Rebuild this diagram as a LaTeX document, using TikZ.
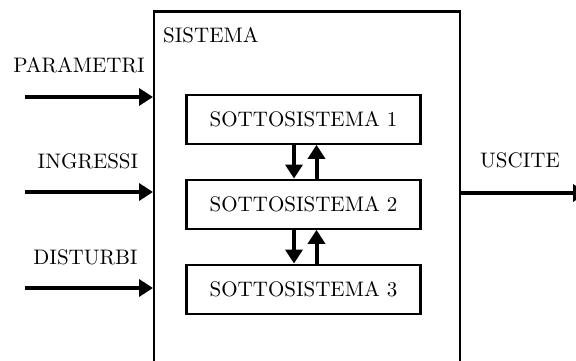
\documentclass[tikz,border=0pt]{standalone}
\usetikzlibrary{arrows.meta}
\newcommand{\bigtxt}[1]{\scalebox{2.1}{\fontsize{10}{12}\selectfont #1}}
\begin{document}
\begin{tikzpicture}[x=1pt,y=-1pt,
  lbl/.style={inner sep=0pt, anchor=base},
  subbox/.style={draw, line width=2.3pt, minimum width=234pt, minimum height=49pt, inner sep=0pt},
  sysbox/.style={draw, line width=2.3pt, inner sep=0pt},
  flow/.style={line width=4pt, -{Triangle[length=14pt,width=17pt]}}]
\clip (0,0) rectangle (576,361);
\node[sysbox, minimum width=306pt, minimum height=420pt, anchor=north west] (sys) at (153,10.5) {};
\node[lbl, anchor=base west] (sistema) at (163,43) {\bigtxt{SISTEMA}};
\node[subbox] (s1) at (303.5,119.2) {\bigtxt{SOTTOSISTEMA 1}};
\node[subbox] (s2) at (303.5,204.2) {\bigtxt{SOTTOSISTEMA 2}};
\node[subbox] (s3) at (303.5,289.2) {\bigtxt{SOTTOSISTEMA 3}};
\node[lbl] (par) at (79,73) {\bigtxt{PARAMETRI}};
\node[lbl] (ing) at (88,168) {\bigtxt{INGRESSI}};
\node[lbl] (dis) at (85.5,264) {\bigtxt{DISTURBI}};
\node[lbl] (usc) at (520,167) {\bigtxt{USCITE}};
\coordinate (pin) at (25,97);
\coordinate (iin) at (25,192);
\coordinate (din) at (25,288);
\coordinate (uout) at (587,193);
\draw[flow] (pin) -- (pin -| sys.west);
\draw[flow] (iin) -- (iin -| sys.west);
\draw[flow] (din) -- (din -| sys.west);
\draw[flow] (uout -| sys.east) -- (uout);
\draw[flow] ([xshift=-9.5pt]s1.south) -- ([xshift=-9.5pt]s2.north);
\draw[flow] ([xshift=13pt]s2.north) -- ([xshift=13pt]s1.south);
\draw[flow] ([xshift=-9.5pt]s2.south) -- ([xshift=-9.5pt]s3.north);
\draw[flow] ([xshift=13pt]s3.north) -- ([xshift=13pt]s2.south);
\end{tikzpicture}
\end{document}
